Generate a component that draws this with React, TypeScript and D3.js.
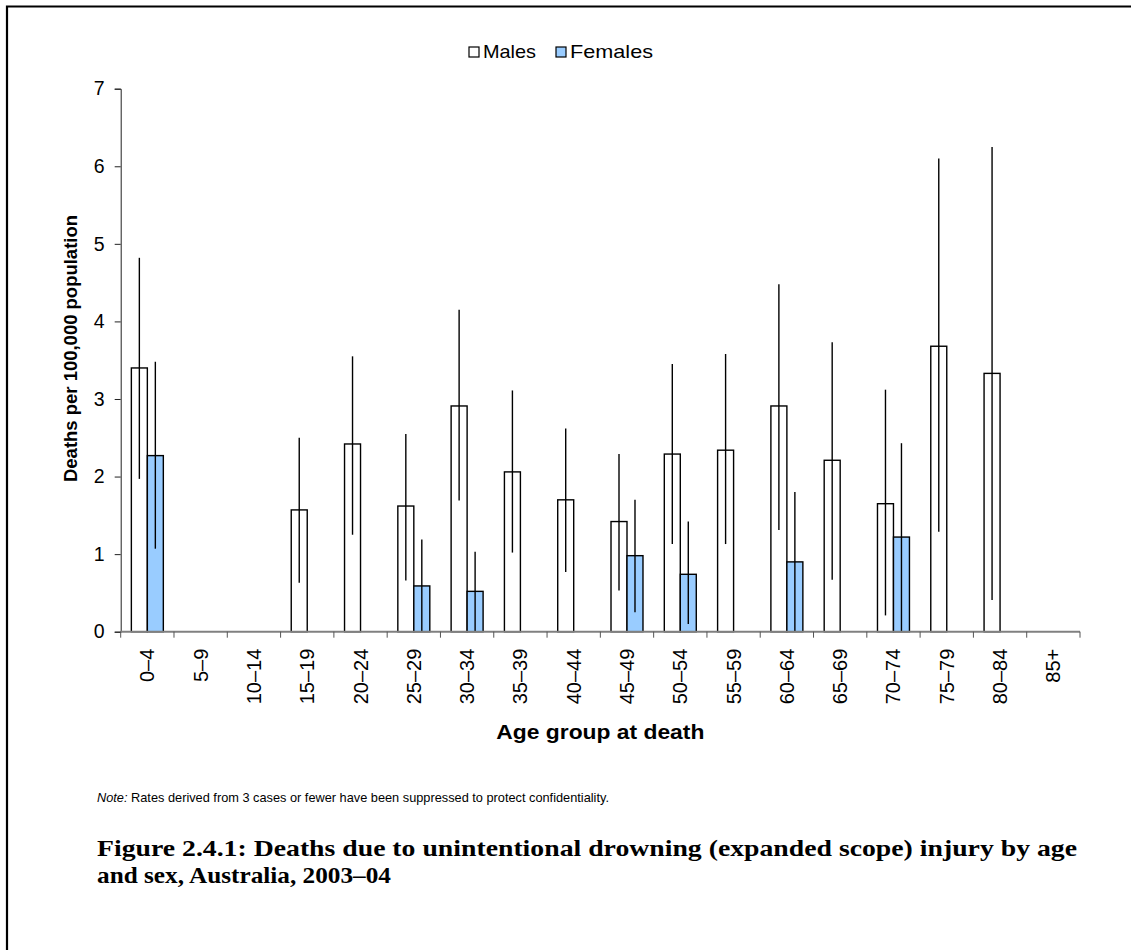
import { useEffect, useRef } from 'react'
import * as d3 from 'd3'

const ageGroups = ['0–4', '5–9', '10–14', '15–19', '20–24', '25–29', '30–34', '35–39', '40–44',
  '45–49', '50–54', '55–59', '60–64', '65–69', '70–74', '75–79', '80–84', '85+']

const series = ['Males', 'Females']

// rates per 100,000 (null = suppressed)
const maleRates = [3.40, null, null, 1.57, 2.42, 1.62, 2.91, 2.06, 1.70, 1.42, 2.29, 2.34, 2.91, 2.21, 1.65, 3.68, 3.33, null]
const maleLow = [1.97, null, null, 0.63, 1.25, 0.66, 1.69, 1.02, 0.77, 0.53, 1.13, 1.13, 1.31, 0.67, 0.21, 1.29, 0.41, null]
const maleHigh = [4.82, null, null, 2.50, 3.55, 2.55, 4.15, 3.11, 2.62, 2.29, 3.45, 3.58, 4.48, 3.73, 3.12, 6.10, 6.25, null]

const femaleRates = [2.27, null, null, null, null, 0.59, 0.52, null, null, 0.98, 0.74, null, 0.90, null, 1.22, null, null, null]
const femaleLow = [1.07, null, null, null, null, 0, 0, null, null, 0.25, 0.10, null, 0, null, 0, null, null, null]
const femaleHigh = [3.48, null, null, null, null, 1.19, 1.03, null, null, 1.70, 1.42, null, 1.80, null, 2.43, null, null, null]

const yTicks = [0, 1, 2, 3, 4, 5, 6, 7]

const colors: Record<string, string> = { Males: '#ffffff', Females: '#99ccff' }

export default function App() {
  const svgRef = useRef<SVGSVGElement>(null)

  useEffect(() => {
    document.body.style.margin = '0'
    document.body.style.overflow = 'hidden'
    if (!svgRef.current) return
    const svg = d3.select(svgRef.current)
    svg.selectAll('*').remove()

    const width = 1131
    const height = 950
    const left = 120.7
    const right = 1080
    const top = 88.7
    const bottom = 631.7
    const sans = 'Arial, "Liberation Sans", sans-serif'

    svg.attr('width', width).attr('height', height)
    svg.append('rect').attr('width', width).attr('height', height).attr('fill', '#fff')

    // outer frame (only top and left visible)
    svg.append('path')
      .attr('d', `M7,950 V6.5 H1131`)
      .attr('fill', 'none')
      .attr('stroke', '#000')
      .attr('stroke-width', 2.2)

    const x = d3.scaleBand<string>().domain(ageGroups).range([left, right])
    const inner = d3.scaleBand<string>().domain(series).range([x.bandwidth() * 0.2, x.bandwidth() * 0.8])
    const y = d3.scaleLinear().domain([0, 7]).range([bottom, top])

    const rows = ageGroups.flatMap((g, i) => [
      { g, s: 'Males', v: maleRates[i], lo: maleLow[i], hi: maleHigh[i] },
      { g, s: 'Females', v: femaleRates[i], lo: femaleLow[i], hi: femaleHigh[i] },
    ]).filter(d => d.v != null) as { g: string; s: string; v: number; lo: number; hi: number }[]

    // bars
    svg.append('g').selectAll('rect')
      .data(rows)
      .enter()
      .append('rect')
      .attr('x', d => x(d.g)! + inner(d.s)!)
      .attr('y', d => y(d.v))
      .attr('width', inner.bandwidth())
      .attr('height', d => y(0) - y(d.v))
      .attr('fill', d => colors[d.s])
      .attr('stroke', '#000')
      .attr('stroke-width', 1.4)

    // error bars
    svg.append('g').selectAll('line')
      .data(rows)
      .enter()
      .append('line')
      .attr('x1', d => x(d.g)! + inner(d.s)! + inner.bandwidth() / 2)
      .attr('x2', d => x(d.g)! + inner(d.s)! + inner.bandwidth() / 2)
      .attr('y1', d => y(d.lo))
      .attr('y2', d => y(d.hi))
      .attr('stroke', '#000')
      .attr('stroke-width', 1.4)

    // y axis
    const yAxis = svg.append('g')
      .attr('transform', `translate(${left},0)`)
      .call(d3.axisLeft(y).tickValues(yTicks).tickSize(6).tickPadding(10).tickFormat(d3.format('d')))
    yAxis.select('.domain').attr('stroke', '#222').attr('stroke-width', 1)
    yAxis.selectAll('.tick line').attr('stroke', '#222')
    yAxis.selectAll('text').attr('font-family', sans).attr('font-size', '19.5px').attr('fill', '#000')

    // x axis
    const xAxis = svg.append('g').attr('transform', `translate(0,${bottom})`)
    xAxis.append('line')
      .attr('x1', left).attr('x2', right)
      .attr('stroke', '#808080').attr('stroke-width', 2)
    xAxis.selectAll('.xt')
      .data([...ageGroups.map(g => x(g)!), right])
      .enter()
      .append('line')
      .attr('x1', d => d).attr('x2', d => d)
      .attr('y1', 0).attr('y2', 6)
      .attr('stroke', '#555').attr('stroke-width', 1)
    xAxis.selectAll('.xl')
      .data(ageGroups)
      .enter()
      .append('text')
      .attr('transform', d => `translate(${x(d)! + x.bandwidth() / 2},${17}) rotate(-90)`)
      .attr('text-anchor', 'end')
      .attr('dy', '0.35em')
      .attr('font-family', sans)
      .attr('font-size', '20px')
      .attr('fill', '#000')
      .text(d => d)

    // axis titles
    svg.append('text')
      .attr('x', (left + right) / 2)
      .attr('y', 739)
      .attr('text-anchor', 'middle')
      .attr('font-family', sans)
      .attr('font-size', '19.5px')
      .attr('font-weight', 'bold')
      .attr('textLength', 208)
      .attr('lengthAdjust', 'spacingAndGlyphs')
      .text('Age group at death')

    svg.append('text')
      .attr('transform', `translate(77,348.5) rotate(-90)`)
      .attr('text-anchor', 'middle')
      .attr('font-family', sans)
      .attr('font-size', '18.5px')
      .attr('font-weight', 'bold')
      .attr('textLength', 267)
      .attr('lengthAdjust', 'spacingAndGlyphs')
      .text('Deaths per 100,000 population')

    // legend
    const legend = svg.append('g').attr('transform', 'translate(469,47)')
    const lx = [0, 87]
    const lw = [53, 83]
    series.forEach((s, i) => {
      legend.append('rect')
        .attr('x', lx[i]).attr('y', 0)
        .attr('width', 10).attr('height', 10)
        .attr('fill', colors[s]).attr('stroke', '#000').attr('stroke-width', 1.2)
      legend.append('text')
        .attr('x', lx[i] + 14).attr('y', 11)
        .attr('font-family', sans)
        .attr('font-size', '18.5px')
        .attr('textLength', lw[i])
        .attr('lengthAdjust', 'spacingAndGlyphs')
        .text(s)
    })

    // note
    const note = svg.append('text')
      .attr('x', 97).attr('y', 802)
      .attr('font-family', sans)
      .attr('font-size', '13px')
      .attr('textLength', 512)
      .attr('lengthAdjust', 'spacingAndGlyphs')
    note.append('tspan').attr('font-style', 'italic').text('Note:')
    note.append('tspan').text(' Rates derived from 3 cases or fewer have been suppressed to protect confidentiality.')

    // figure caption
    const serif = '"Liberation Serif", "Times New Roman", serif'
    svg.append('text')
      .attr('x', 97).attr('y', 856)
      .attr('font-family', serif)
      .attr('font-size', '23px')
      .attr('font-weight', 'bold')
      .attr('textLength', 980)
      .attr('lengthAdjust', 'spacingAndGlyphs')
      .text('Figure 2.4.1: Deaths due to unintentional drowning (expanded scope) injury by age')
    svg.append('text')
      .attr('x', 97).attr('y', 883)
      .attr('font-family', serif)
      .attr('font-size', '23px')
      .attr('font-weight', 'bold')
      .attr('textLength', 294)
      .attr('lengthAdjust', 'spacingAndGlyphs')
      .text('and sex, Australia, 2003–04')
  }, [])

  return (
    <div style={{ position: 'absolute', left: 0, top: 0 }}>
      <svg ref={svgRef} style={{ display: 'block' }} />
    </div>
  )
}
